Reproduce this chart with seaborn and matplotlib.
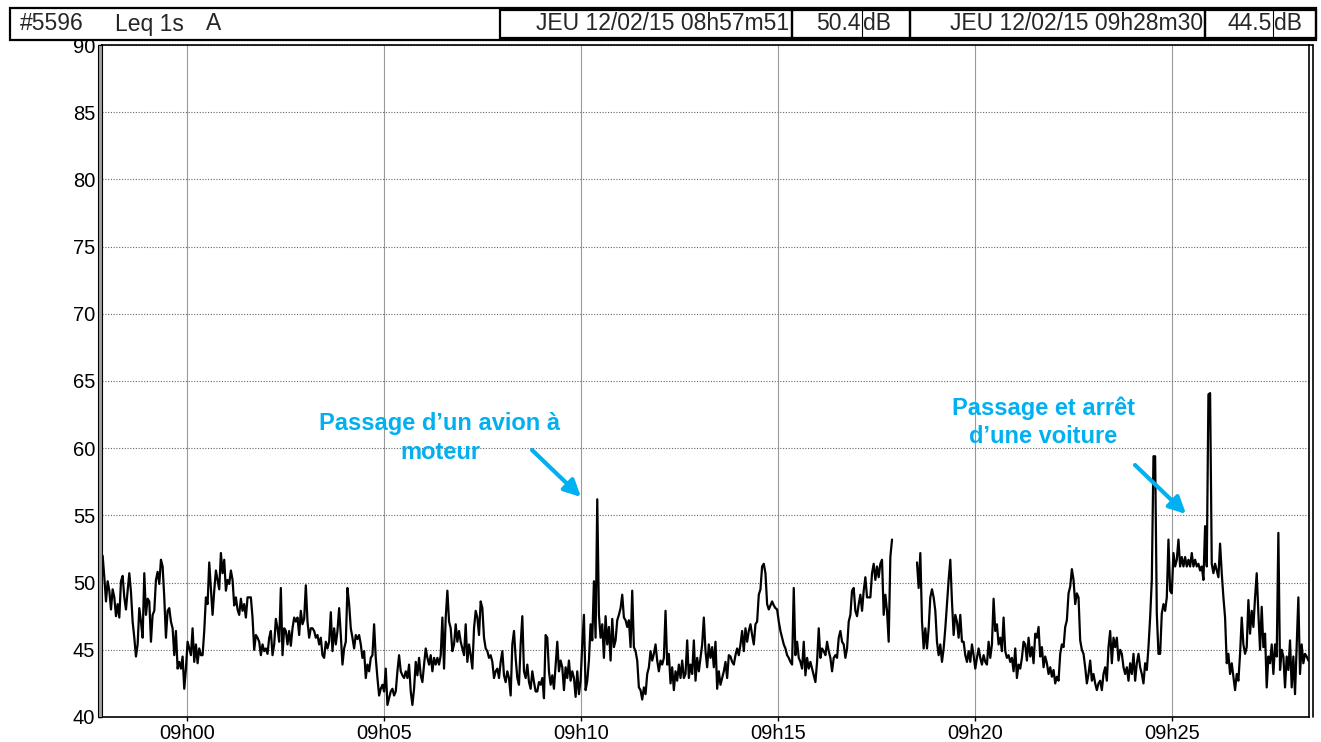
import numpy as np
import pandas as pd
import matplotlib
matplotlib.use("Agg")
import matplotlib.pyplot as plt
import seaborn as sns
from matplotlib.patches import Rectangle
from matplotlib.lines import Line2D

# ---------------- data (Leq 1s, dB(A)) ----------------
nan = np.nan
leq_0858 = [
    52.0, 50.4, 48.6, 50.1, 49.4, 48.0, 49.5, 48.9, 47.5, 48.4,
    47.4, 50.1, 50.5, 48.9, 48.0, 49.4, 50.7, 49.3, 47.1, 45.9,
    44.5, 45.4, 48.1, 47.1, 45.9, 50.7, 47.6, 48.8, 48.6, 45.6,
    47.6, 47.9, 50.2, 50.8, 49.9, 51.7, 51.2, 48.9, 45.9, 47.9,
    48.1, 47.1, 46.6, 44.6, 46.4, 43.6, 44.1, 43.6, 44.5, 42.1,
    43.6, 45.6, 45.1, 44.6, 46.6, 44.1, 45.4, 44.0, 45.1, 44.6,
    44.6, 46.4, 48.9, 48.4, 51.5, 49.5, 47.6, 49.4, 50.9, 50.2,
    49.5, 52.2, 50.7, 51.7, 49.4, 50.2, 49.9, 50.9, 50.2, 48.3,
    48.9, 48.0, 47.6, 48.8, 47.9, 48.4, 47.4, 48.9, 48.9,
]
leq_0902 = [
    48.9, 47.4, 45.0, 46.1, 45.9, 45.6, 44.6, 45.4, 44.9, 45.1,
    44.7, 45.9, 46.4, 44.6, 45.4, 47.3, 46.6, 45.6, 49.6, 44.6,
    46.6, 46.4, 45.4, 46.4, 45.3, 46.6, 47.4, 47.1, 47.4, 46.1,
    47.9, 46.9, 47.3, 49.8, 47.1, 45.9, 46.6, 46.6, 46.4, 45.9,
    46.1, 45.4, 45.9, 44.6, 44.4, 45.6, 45.1, 45.6, 47.8, 44.9,
    46.6, 45.4, 46.4, 48.1, 46.1, 43.9, 45.1, 45.6, 49.6, 48.4,
    46.6, 45.9, 45.1, 46.1, 45.8, 46.1, 45.4, 44.4, 44.9, 42.9,
    43.9, 43.4, 44.4, 44.6, 46.9, 44.4, 42.9, 41.6, 42.1, 42.4,
    41.9, 43.6, 40.9, 41.4, 41.9, 42.1, 41.6, 41.9, 43.4, 44.6,
    43.4, 43.1, 42.9,
]
leq_0906 = [
    43.4, 42.9, 43.9, 41.9, 40.9, 42.1, 44.1, 43.1, 44.4, 43.1,
    42.6, 43.9, 45.1, 44.4, 43.9, 44.6, 43.4, 44.4, 43.9, 44.4,
    43.9, 44.6, 47.4, 43.6, 47.4, 49.4, 47.1, 46.6, 44.9, 45.4,
    46.9, 45.6, 46.4, 45.6, 45.1, 44.6, 46.9, 44.1, 45.4, 44.6,
    43.6, 46.6, 47.9, 47.4, 46.1, 48.6, 48.1, 45.9, 45.1, 44.9,
    44.4, 44.6, 44.1, 42.9, 43.4, 43.6, 42.9, 44.1, 44.9, 43.1,
    42.6, 43.4, 42.9, 41.6, 45.4, 46.4, 44.4, 42.9, 42.4, 45.4,
    47.5, 43.4, 42.9, 43.9, 42.6, 42.1, 43.4, 42.6, 41.9, 41.9,
    42.6, 42.4, 42.9, 41.4, 46.1, 45.9, 43.4, 42.4, 43.1, 42.1,
    43.9, 45.6, 43.4,
]
leq_0910 = [
    44.2, 43.7, 42.0, 43.7, 42.9, 44.2, 42.7, 43.4, 42.9, 41.5,
    43.4, 41.7, 42.7, 45.4, 47.6, 42.0, 42.7, 44.2, 46.9, 45.7,
    50.1, 45.9, 56.2, 47.6, 45.9, 46.9, 44.4, 47.5, 45.4, 46.7,
    44.2, 47.3, 45.2, 45.7, 47.2, 47.6, 48.1, 49.1, 47.4, 47.2,
    46.7, 47.2, 45.2, 49.4, 45.2, 44.9, 44.2, 42.2, 42.0, 41.3,
    42.2, 41.7, 43.2, 43.7, 44.9, 44.2, 44.7, 45.4, 44.2, 43.4,
    44.2, 43.9, 44.4, 47.9, 43.9, 44.7, 42.5, 43.7, 42.0, 43.4,
    42.7, 43.9, 42.9, 44.2, 42.9, 43.2, 45.7, 42.9, 43.9, 43.2,
    45.7, 42.7, 44.4, 43.4, 44.4, 45.4, 47.4, 44.9, 43.7, 45.4,
    44.4, 45.2, 43.7,
]
leq_0914 = [
    45.6, 42.1, 43.4, 42.4, 42.9, 43.4, 44.1, 42.9, 44.6, 44.5,
    44.1, 43.9, 44.6, 45.1, 44.6, 45.4, 46.4, 44.9, 46.6, 45.6,
    46.4, 46.9, 46.1, 45.4, 46.9, 47.1, 49.1, 49.5, 51.2, 51.4,
    50.7, 48.4, 48.0, 48.3, 48.6, 48.3, 48.1, 48.0, 47.1, 46.4,
    45.9, 45.4, 45.1, 44.6, 44.4, 44.1, 43.9, 49.6, 44.6, 45.6,
    44.4, 44.1, 43.6, 45.6, 43.1, 44.4, 43.6, 44.1, 43.6, 43.1,
    42.6, 44.1, 46.6, 44.4, 45.1, 44.9, 44.6, 45.6, 44.9, 44.4,
    43.4, 44.4, 44.6, 44.4, 45.9, 46.4, 45.6, 45.4, 44.4, 45.1,
    47.1, 47.6, 49.4, 49.6, 47.9, 47.5, 48.4, 49.1, 47.9, 49.4,
    50.4, 48.9, 48.9,
]
leq_0918 = [
    48.9, 50.7, 51.4, 50.2, 51.2, 50.4, 51.4, 51.7, 47.6, 49.1,
    47.9, 45.6, 51.9, 53.2,
    nan, nan, nan, nan, nan, nan, nan, nan, nan, nan, nan, nan, nan, nan,
    51.5, 49.6, 52.2, 47.1, 45.1, 46.6, 45.1, 46.6, 48.9, 49.5,
    48.9, 47.9, 45.6, 44.6, 45.4, 44.1, 45.1, 46.6, 48.4, 50.2,
    51.7, 48.6, 46.1, 47.6, 47.1, 45.9, 47.6, 45.6, 45.6, 44.6,
    44.1, 44.9, 44.1, 45.4, 44.6, 43.6, 44.4, 45.1, 44.4, 43.9,
    44.6, 44.1, 43.9, 45.6, 44.4, 45.4, 48.8, 46.4, 46.9, 45.4,
    45.9, 44.9, 47.4, 44.9, 44.4, 44.6, 44.1, 44.4, 43.4, 45.1,
    42.9, 43.9, 43.6, 44.4, 45.6,
]
leq_0922 = [
    45.4, 44.2, 45.9, 44.5, 45.2, 44.0, 46.2, 45.9, 46.7, 44.5,
    45.2, 43.7, 44.5, 44.0, 43.2, 43.7, 43.0, 43.5, 42.5, 43.0,
    42.7, 44.7, 45.4, 45.2, 46.7, 47.2, 49.2, 49.7, 51.0, 50.2,
    48.4, 49.2, 48.9, 45.7, 45.0, 44.7, 43.7, 42.5, 43.2, 44.2,
    42.7, 43.2, 42.5, 42.0, 42.5, 42.7, 42.0, 43.2, 43.7, 42.7,
    45.2, 46.4, 44.0, 45.9, 45.2, 45.9, 44.2, 45.0, 44.7, 43.7,
    43.2, 43.7, 42.7, 44.0, 43.2, 44.7, 42.7, 44.0, 44.7, 43.7,
    43.2, 42.5, 44.0, 43.5, 45.2, 47.4, 50.2, 59.4, 59.4, 47.7,
    44.7,
]
leq_0925 = [
    44.7, 47.7, 48.4, 47.9, 48.9, 53.2, 49.4, 49.2, 52.2, 51.2,
    51.7, 53.2, 51.2, 51.9, 51.2, 51.9, 51.2, 51.7, 51.2, 52.2,
    51.2, 51.7, 51.2, 51.4, 50.9, 51.2, 50.2, 54.2, 51.2, 64.0,
    64.1, 51.4, 50.7, 51.4, 50.9, 50.4, 52.9, 50.7, 48.9, 47.4,
    44.0, 44.7, 43.2, 44.0, 43.0, 42.0, 43.2, 42.7, 44.7, 47.4,
    45.4, 44.7, 45.2, 48.7, 46.2, 47.9, 46.7, 48.9, 50.7, 47.7,
    45.0, 48.2, 45.2, 46.2, 42.2, 44.5, 44.0, 45.4, 43.2, 45.4,
    44.5, 53.7, 43.5, 45.0, 44.5, 42.2, 44.5, 43.5, 45.7, 42.2,
    44.5, 41.7, 45.2, 48.9, 43.2, 45.4, 44.0, 44.7, 44.5, 44.2,
]

start_time = "2015-02-12 08:57:51"
end_time = "2015-02-12 09:28:28"
tick_times = ["2015-02-12 09:00", "2015-02-12 09:05", "2015-02-12 09:10",
              "2015-02-12 09:15", "2015-02-12 09:20", "2015-02-12 09:25"]
tick_labels = ["09h00", "09h05", "09h10", "09h15", "09h20", "09h25"]
y_ticks = [40, 45, 50, 55, 60, 65, 70, 75, 80, 85, 90]

header_station = ["#5596", "Leq 1s", "A"]
cursor1 = ("JEU 12/02/15 08h57m51", "50.4")
cursor2 = ("JEU 12/02/15 09h28m30", "44.5")
note_plane = "Passage d\u2019un avion \u00e0\nmoteur"
note_car = "Passage et arr\u00eat\nd\u2019une voiture"

# ---------------- build frame ----------------
leq = (leq_0858 + leq_0902 + leq_0906 + leq_0910 + leq_0914
       + leq_0918 + leq_0922 + leq_0925)
times = pd.date_range(start_time, end_time, periods=len(leq))
df = pd.DataFrame({"time": times, "leq": leq})
df["seg"] = df["leq"].isna().cumsum()
df = df.dropna()

# ---------------- figure ----------------
sns.set_style("white")
plt.rcParams["font.family"] = ["Liberation Sans", "DejaVu Sans"]

W, H = 1321, 742
fig = plt.figure(figsize=(W / 100, H / 100), dpi=100)
fig.patch.set_facecolor("white")

L, R, T, B = 102, 1309, 45, 717
ax = fig.add_axes([L / W, 1 - B / H, (R - L) / W, (B - T) / H])

sns.lineplot(data=df, x="time", y="leq", units="seg", estimator=None,
             color="black", lw=1.6, ax=ax, legend=False)

ax.set_xlim(pd.Timestamp("2015-02-12 08:57:50").to_pydatetime(),
            pd.Timestamp("2015-02-12 09:28:29").to_pydatetime())
ax.set_ylim(40, 90)
ax.set_xticks(pd.to_datetime(tick_times).to_pydatetime())
ax.set_xticklabels(tick_labels)
ax.set_yticks(y_ticks)
ax.set_yticklabels([str(v) for v in y_ticks])
ax.set_xlabel("")
ax.set_ylabel("")

ax.tick_params(axis="both", bottom=True, left=True, length=3, width=1,
               color="black", labelsize=14.5, direction="out", pad=2,
               labelcolor="black")
ax.yaxis.grid(True, color="#666666", linestyle=(0, (1, 1.5)), lw=0.8)
ax.xaxis.grid(True, color="#9a9a9a", linestyle="-", lw=0.8)
ax.set_axisbelow(True)
for s in ax.spines.values():
    s.set_visible(True)
    s.set_color("black")
    s.set_linewidth(1.2)


def fx(px):
    return px / W


def fy(py):
    return 1 - py / H


# left grey double bar and right double line of the plot frame
fig.add_artist(Rectangle((fx(98), fy(B)), fx(4), (B - T) / H,
                         transform=fig.transFigure, facecolor="#a0a0a0",
                         edgecolor="black", lw=0.8))
fig.add_artist(Line2D([fx(1313), fx(1313)], [fy(T), fy(B)],
                      transform=fig.transFigure, color="black", lw=1.2))
fig.add_artist(Line2D([fx(R), fx(1313)], [fy(T), fy(T)],
                      transform=fig.transFigure, color="black", lw=1.2))

# ---------------- header ----------------
def box(x0, x1, y0=10, y1=38, lw=1.6):
    fig.add_artist(Rectangle((fx(x0), fy(y1)), (x1 - x0) / W, (y1 - y0) / H,
                             transform=fig.transFigure, facecolor="none",
                             edgecolor="black", lw=lw))


def vline(x, y0=10, y1=38, lw=0.8):
    fig.add_artist(Line2D([fx(x), fx(x)], [fy(y0), fy(y1)],
                          transform=fig.transFigure, color="black", lw=lw))


box(10, 1316, 8, 40, lw=1.6)
box(500, 792)
box(792, 910)
vline(862)
box(910, 1205)
box(1205, 1316)
vline(1273)

ty = fy(24)
hfs = 16.5
fig.text(fx(20), ty, header_station[0], ha="left", va="center", fontsize=hfs)
fig.text(fx(115), ty, header_station[1], ha="left", va="center", fontsize=hfs)
fig.text(fx(206), ty, header_station[2], ha="left", va="center", fontsize=hfs)
fig.text(fx(789), ty, cursor1[0], ha="right", va="center", fontsize=hfs)
fig.text(fx(861), ty, cursor1[1], ha="right", va="center", fontsize=hfs)
fig.text(fx(863), ty, "dB", ha="left", va="center", fontsize=hfs)
fig.text(fx(1203), ty, cursor2[0], ha="right", va="center", fontsize=hfs)
fig.text(fx(1272), ty, cursor2[1], ha="right", va="center", fontsize=hfs)
fig.text(fx(1274), ty, "dB", ha="left", va="center", fontsize=hfs)

# ---------------- annotations ----------------
cyan = "#00B0F0"


def afx(px):
    return (px - L) / (R - L)


def afy(py):
    return (B - py) / (B - T)


ax.text(afx(440), afy(438), note_plane, transform=ax.transAxes, ha="center",
        va="center", color=cyan, fontsize=17, fontweight="bold",
        linespacing=1.3)
ax.annotate("", xy=(afx(581), afy(497)), xytext=(afx(532), afy(450)),
            xycoords="axes fraction", textcoords="axes fraction",
            arrowprops=dict(arrowstyle="-|>", color=cyan, lw=3,
                            mutation_scale=25, shrinkA=0, shrinkB=0))
ax.text(afx(1043), afy(422), note_car, transform=ax.transAxes, ha="center",
        va="center", color=cyan, fontsize=17, fontweight="bold",
        linespacing=1.3)
ax.annotate("", xy=(afx(1186), afy(514)), xytext=(afx(1135), afy(465)),
            xycoords="axes fraction", textcoords="axes fraction",
            arrowprops=dict(arrowstyle="-|>", color=cyan, lw=3,
                            mutation_scale=25, shrinkA=0, shrinkB=0))

fig.savefig("out.png", dpi=100, facecolor="white")
